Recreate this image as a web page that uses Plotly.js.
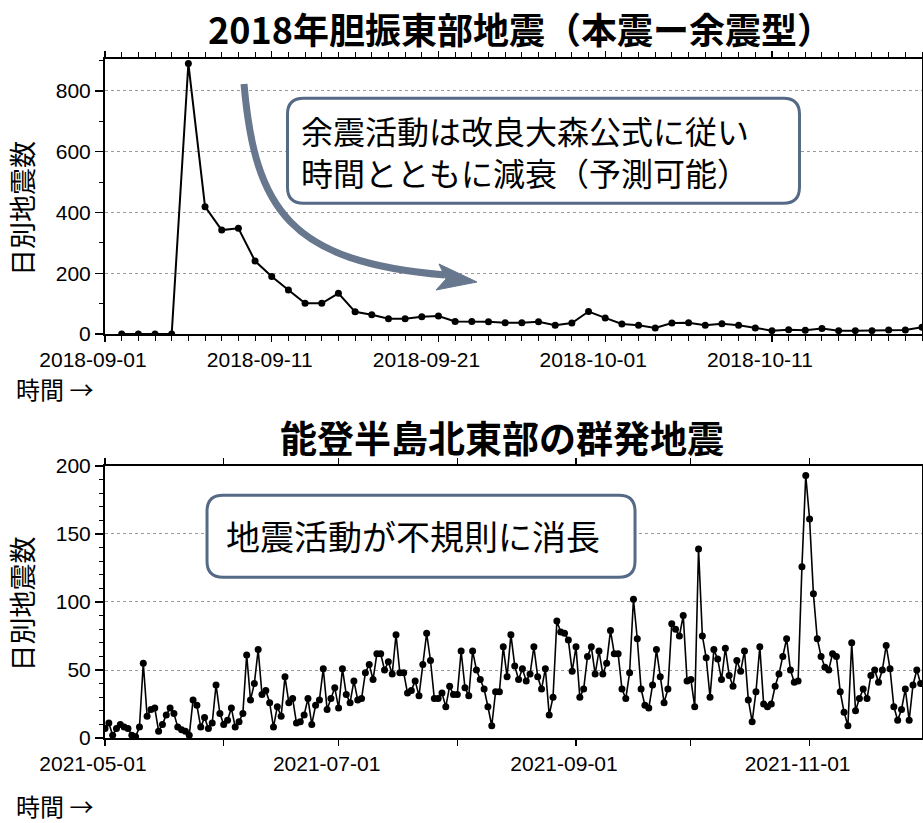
<!DOCTYPE html>
<html>
<head>
<meta charset="utf-8">
<script src="https://cdn.plot.ly/plotly-3.0.1.min.js"></script>
<style>
  html, body { margin: 0; padding: 0; background: #fff; }
  #chart { width: 923px; height: 823px; }
</style>
</head>
<body>
<div id="chart"></div>
<script>
// Daily earthquake counts, 2018 Hokkaido Eastern Iburi sequence (from 2018-09-02)
const iburiStart = '2018-09-02';
const iburiCounts = [
  0, 0, 0, 0, 890, 419, 342, 348, 240, 189, 145, 101, 101, 134, 73, 63,
  50, 50, 57, 59, 41, 41, 40, 37, 37, 40, 29, 36, 74, 53, 33, 29, 20, 36,
  37, 29, 34, 29, 20, 11, 14, 12, 18, 11, 11, 11, 13, 13, 22
];

// Daily earthquake counts, Noto Peninsula swarm (from 2021-05-01)
const notoStart = '2021-05-01';
const notoCounts = [
  7, 11, 2, 7, 10, 8, 7, 2, 1, 8, 55, 16, 21, 22, 5, 10, 17, 22, 18, 8,
  6, 5, 2, 28, 24, 8, 15, 7, 11, 39, 18, 10, 13, 22, 8, 12, 18, 61, 28, 40,
  65, 32, 35, 26, 8, 23, 16, 45, 26, 29, 11, 12, 17, 29, 10, 24, 28, 51, 21, 29,
  37, 22, 51, 32, 26, 42, 28,
  29, 48, 54, 43, 62, 62, 50, 56, 47, 76, 48, 48, 33, 35, 42, 31, 54, 77, 57, 29,
  29, 33, 23, 38, 32, 32, 64, 37, 31, 64, 50, 43, 36, 23, 9, 34, 34, 67, 45, 76,
  53, 43, 51, 42, 47, 67, 45, 36, 51, 17, 30, 86, 78, 77, 72, 49, 67, 30, 36, 60,
  67, 47, 64, 47, 55, 79,
  62, 62, 36, 29, 48, 102, 73, 36, 24, 22, 39, 65, 45, 26, 36, 84, 80, 75, 90, 42,
  43, 23, 139, 75, 59, 30, 65, 58, 43, 66, 46, 38, 57, 49, 64, 28, 12, 34, 67, 25,
  23, 25, 38, 47, 60, 73, 50, 41, 42, 126, 193, 161, 106, 73, 60, 52, 50, 62, 60, 34,
  19, 9, 70, 20, 29, 36, 29, 46, 50, 41, 50, 68, 51, 23, 13, 21, 36, 13, 39, 50,
  40, 40
];

// Text drawn on the figure
const titleTop = '2018年胆振東部地震（本震ー余震型）';
const titleBottom = '能登半島北東部の群発地震';
const yLabel = '日別地震数';
const timeLabel = '時間 →';
const noteTopLines = ['余震活動は改良大森公式に従い', '時間とともに減衰（予測可能）'];
const noteBottom = '地震活動が不規則に消長';

// Consecutive daily date strings starting at a given day
function dailyDates(start, n) {
  const t0 = Date.parse(start + 'T00:00:00Z');
  const out = [];
  for (let i = 0; i < n; i++) {
    out.push(new Date(t0 + i * 86400000).toISOString().slice(0, 10));
  }
  return out;
}

const CJK = '"Noto Sans CJK JP", "Noto Sans", sans-serif';
const LAT = '"Liberation Sans", Arial, Helvetica, sans-serif';
const DAY = 86400000;

const traceStyle = {
  type: 'scatter',
  mode: 'lines+markers',
  line: { color: '#000', width: 2 },
  marker: { color: '#000', size: 7 },
  hoverinfo: 'x+y'
};

const traces = [
  Object.assign({}, traceStyle, {
    x: dailyDates(iburiStart, iburiCounts.length), y: iburiCounts,
    xaxis: 'x', yaxis: 'y'
  }),
  Object.assign({}, traceStyle, {
    x: dailyDates(notoStart, notoCounts.length), y: notoCounts,
    xaxis: 'x2', yaxis: 'y2',
    line: { color: '#000', width: 1.6 }
  })
];

const axisCommon = {
  showline: true, linecolor: '#000', linewidth: 2, mirror: 'allticks',
  ticks: 'outside', tickcolor: '#000', tickwidth: 1.2,
  zeroline: false,
  tickfont: { family: LAT, size: 21, color: '#000' }
};

const xCommon = Object.assign({}, axisCommon, {
  type: 'date', tickformat: '%Y-%m-%d', showgrid: false, ticklen: 6,
  ticklabelshift: -12
});

const yCommon = Object.assign({}, axisCommon, {
  ticklen: 8, showgrid: true, gridcolor: '#9a9a9a', gridwidth: 1, griddash: 'dot'
});

// Rounded rectangle path (pixel units, centred on its anchor)
function roundRect(w, h, r) {
  const a = w / 2, b = h / 2;
  return `M ${-a + r},${-b} L ${a - r},${-b} Q ${a},${-b} ${a},${-b + r} ` +
         `L ${a},${b - r} Q ${a},${b} ${a - r},${b} L ${-a + r},${b} ` +
         `Q ${-a},${b} ${-a},${b - r} L ${-a},${-b + r} Q ${-a},${-b} ${-a + r},${-b} Z`;
}

const boxLine = { color: '#566a86', width: 3 };

const shapes = [
  // note box, upper panel
  { type: 'path', xref: 'paper', yref: 'paper', xsizemode: 'pixel', ysizemode: 'pixel',
    xanchor: 0.5367, yanchor: 0.8648, path: roundRect(512, 105, 16),
    line: boxLine, fillcolor: '#fff', layer: 'above' },
  // note box, lower panel
  { type: 'path', xref: 'paper', yref: 'paper', xsizemode: 'pixel', ysizemode: 'pixel',
    xanchor: 0.3868, yanchor: 0.2972, path: roundRect(428, 82, 16),
    line: boxLine, fillcolor: '#fff', layer: 'above' },
  // decay arrow: curved shaft
  { type: 'path', xref: 'paper', yref: 'paper', xsizemode: 'pixel', ysizemode: 'pixel',
    xanchor: 0, yanchor: 1,
    path: 'M 139,-25 C 150,-151 185,-203 340,-216',
    line: { color: '#67778d', width: 7 }, layer: 'above' },
  // decay arrow: head
  { type: 'path', xref: 'paper', yref: 'paper', xsizemode: 'pixel', ysizemode: 'pixel',
    xanchor: 0, yanchor: 1,
    path: 'M 334,-205 L 372,-223 L 331,-231 L 341,-220 Z',
    line: { color: '#67778d', width: 1 }, fillcolor: '#67778d', layer: 'above' }
];

const annotations = [
  { text: titleTop, xref: 'paper', yref: 'paper', x: 0.508, y: 1.0869,
    xanchor: 'center', yanchor: 'top', showarrow: false,
    font: { family: CJK, size: 36, color: '#000', weight: 700 } },
  { text: titleBottom, xref: 'paper', yref: 'paper', x: 0.4865, y: 0.4433,
    xanchor: 'center', yanchor: 'middle', showarrow: false,
    font: { family: CJK, size: 37, color: '#000', weight: 700 } },
  { text: yLabel, xref: 'paper', yref: 'paper', x: -0.1016, y: 0.7806, textangle: -90,
    xanchor: 'center', yanchor: 'middle', showarrow: false,
    font: { family: CJK, size: 27, color: '#000' } },
  { text: yLabel, xref: 'paper', yref: 'paper', x: -0.1016, y: 0.198, textangle: -90,
    xanchor: 'center', yanchor: 'middle', showarrow: false,
    font: { family: CJK, size: 27, color: '#000' } },
  { text: timeLabel, xref: 'paper', yref: 'paper', x: -0.1114, y: 0.514,
    xanchor: 'left', yanchor: 'middle', showarrow: false,
    font: { family: CJK, size: 24, color: '#000' } },
  { text: timeLabel, xref: 'paper', yref: 'paper', x: -0.1114, y: -0.1001,
    xanchor: 'left', yanchor: 'middle', showarrow: false,
    font: { family: CJK, size: 24, color: '#000' } },
  { text: noteTopLines[0], xref: 'paper', yref: 'paper', x: 0.2375, y: 0.8947,
    xanchor: 'left', yanchor: 'middle', showarrow: false,
    font: { family: CJK, size: 32, color: '#000' } },
  { text: noteTopLines[1], xref: 'paper', yref: 'paper', x: 0.2375, y: 0.8336,
    xanchor: 'left', yanchor: 'middle', showarrow: false,
    font: { family: CJK, size: 32, color: '#000' } },
  { text: noteBottom, xref: 'paper', yref: 'paper', x: 0.3764, y: 0.2975,
    xanchor: 'center', yanchor: 'middle', showarrow: false,
    font: { family: CJK, size: 34, color: '#000' } }
];

const layout = {
  width: 923, height: 823,
  margin: { l: 105, r: 1, t: 59, b: 85 },
  paper_bgcolor: '#fff', plot_bgcolor: '#fff',
  showlegend: false,
  xaxis: Object.assign({}, xCommon, {
    anchor: 'y', domain: [0, 1],
    range: ['2018-09-01', '2018-10-20'],
    tick0: '2018-09-01', dtick: 10 * DAY,
    minor: { dtick: DAY, ticks: 'outside', ticklen: 5, tickcolor: '#000', tickwidth: 1 }
  }),
  yaxis: Object.assign({}, yCommon, {
    anchor: 'x', domain: [0.595, 1],
    range: [0, 905], tick0: 0, dtick: 200,
    minor: { dtick: 100, ticks: 'outside', ticklen: 4, tickcolor: '#000', tickwidth: 1 }
  }),
  xaxis2: Object.assign({}, xCommon, {
    anchor: 'y2', domain: [0, 1],
    range: ['2021-05-01', '2021-11-30 08:30'],
    tick0: '2021-05-01', dtick: 'M2',
    minor: { dtick: 'M1', ticks: 'outside', ticklen: 6, tickcolor: '#000', tickwidth: 1.2 }
  }),
  yaxis2: Object.assign({}, yCommon, {
    anchor: 'x2', domain: [0, 0.4006],
    range: [0, 200], tick0: 0, dtick: 50,
    minor: { dtick: 10, ticks: 'outside', ticklen: 4, tickcolor: '#000', tickwidth: 1 }
  }),
  shapes: shapes,
  annotations: annotations
};

Plotly.newPlot('chart', traces, layout, { displayModeBar: false, staticPlot: true });
</script>
</body>
</html>
